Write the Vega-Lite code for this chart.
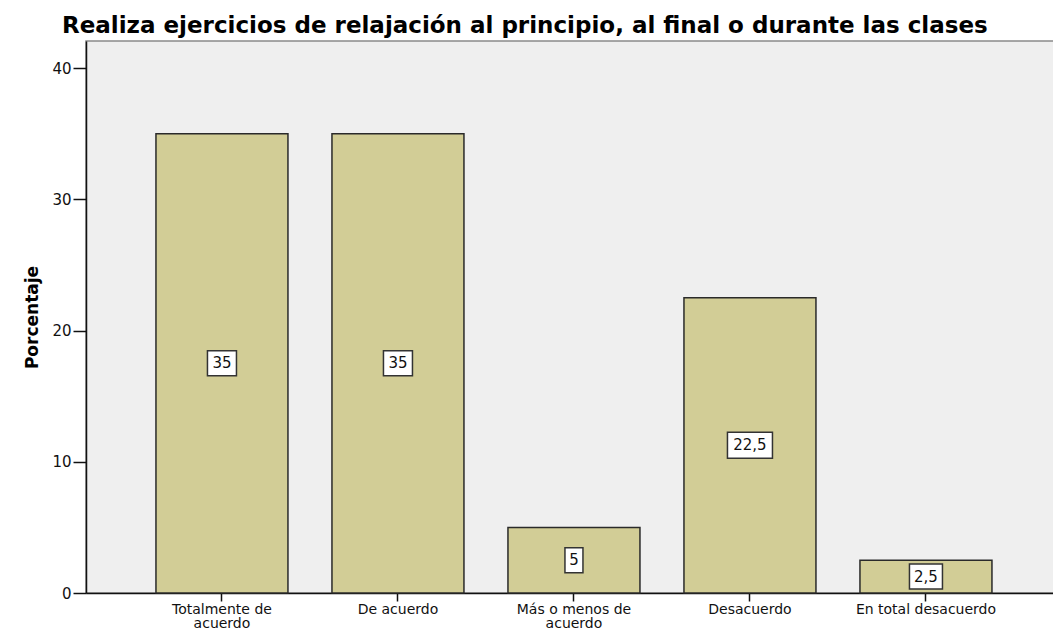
{
  "$schema": "https://vega.github.io/schema/vega-lite/v6.json",
  "width": 968,
  "height": 552,
  "autosize": "none",
  "padding": {"left": 86, "top": 41, "right": 0, "bottom": 39},
  "background": "white",
  "config": {
    "view": {"fill": "#efefef", "stroke": "#8a8a8a", "strokeWidth": 1.5},
    "font": "DejaVu Sans"
  },
  "title": {
    "text": "Realiza ejercicios de relajación al principio, al final o durante las clases",
    "anchor": "start",
    "frame": "group",
    "dx": -24,
    "offset": 3,
    "font": "DejaVu Sans",
    "fontSize": 23,
    "fontWeight": "bold",
    "color": "#000"
  },
  "data": {
    "values": [
      {"category": "Totalmente de acuerdo", "value": 35, "label": "35"},
      {"category": "De acuerdo", "value": 35, "label": "35"},
      {"category": "Más o menos de acuerdo", "value": 5, "label": "5"},
      {"category": "Desacuerdo", "value": 22.5, "label": "22,5"},
      {"category": "En total desacuerdo", "value": 2.5, "label": "2,5"}
    ]
  },
  "layer": [
    {
      "mark": {"type": "bar", "fill": "#d2cd96", "stroke": "#2a2a2a", "strokeWidth": 1.5},
      "encoding": {
        "x": {
          "field": "category",
          "type": "nominal",
          "sort": ["Totalmente de acuerdo", "De acuerdo", "Más o menos de acuerdo", "Desacuerdo", "En total desacuerdo"],
          "scale": {"paddingInner": 0.25, "paddingOuter": 0.375, "align": 0.53},
          "axis": {
            "title": null,
            "labelAngle": 0,
            "domainColor": "#111",
            "domainWidth": 1.5,
            "tickColor": "#111",
            "tickWidth": 1.5,
            "tickSize": 8,
            "labelPadding": 1,
            "labelFont": "DejaVu Sans",
            "labelFontSize": 14,
            "labelColor": "#111",
            "labelLineHeight": 14,
            "labelExpr": "datum.label == 'Totalmente de acuerdo' ? ['Totalmente de', 'acuerdo'] : datum.label == 'Más o menos de acuerdo' ? ['Más o menos de', 'acuerdo'] : datum.label"
          }
        },
        "y": {
          "field": "value",
          "type": "quantitative",
          "scale": {"domain": [0, 42.06], "nice": false},
          "axis": {
            "title": "Porcentaje",
            "titleFont": "DejaVu Sans",
            "titleFontSize": 17,
            "titleFontWeight": "bold",
            "titleColor": "#000",
            "titlePadding": 10,
            "values": [0, 10, 20, 30, 40],
            "grid": false,
            "domainColor": "#111",
            "domainWidth": 1.5,
            "tickColor": "#111",
            "tickWidth": 1.5,
            "tickSize": 13,
            "labelPadding": 2,
            "labelFont": "DejaVu Sans",
            "labelFontSize": 15,
            "labelColor": "#111"
          }
        }
      }
    },
    {
      "mark": {"type": "point", "filled": true, "fill": "white", "stroke": "#333", "strokeWidth": 1.5, "opacity": 1, "size": 100},
      "encoding": {
        "x": {"field": "category", "type": "nominal", "sort": ["Totalmente de acuerdo", "De acuerdo", "Más o menos de acuerdo", "Desacuerdo", "En total desacuerdo"]},
        "y": {"field": "value", "type": "quantitative", "scale": {"domain": [0, 84.12], "nice": false}, "axis": null},
        "shape": {
          "field": "label",
          "type": "nominal",
          "scale": {
            "domain": ["35", "22,5", "5", "2,5"],
            "range": [
              "M-2.9,-2.5L2.9,-2.5L2.9,2.5L-2.9,2.5Z",
              "M-4.5,-2.6L4.5,-2.6L4.5,2.6L-4.5,2.6Z",
              "M-1.8,-2.5L1.8,-2.5L1.8,2.5L-1.8,2.5Z",
              "M-3.3,-2.5L3.3,-2.5L3.3,2.5L-3.3,2.5Z"
            ]
          },
          "legend": null
        }
      }
    },
    {
      "mark": {"type": "text", "font": "DejaVu Sans", "fontSize": 15, "color": "#111", "baseline": "middle", "align": "center"},
      "encoding": {
        "x": {"field": "category", "type": "nominal", "sort": ["Totalmente de acuerdo", "De acuerdo", "Más o menos de acuerdo", "Desacuerdo", "En total desacuerdo"]},
        "y": {"field": "value", "type": "quantitative", "scale": {"domain": [0, 84.12], "nice": false}, "axis": null},
        "text": {"field": "label", "type": "nominal"}
      }
    }
  ],
  "resolve": {"scale": {"y": "independent"}}
}
